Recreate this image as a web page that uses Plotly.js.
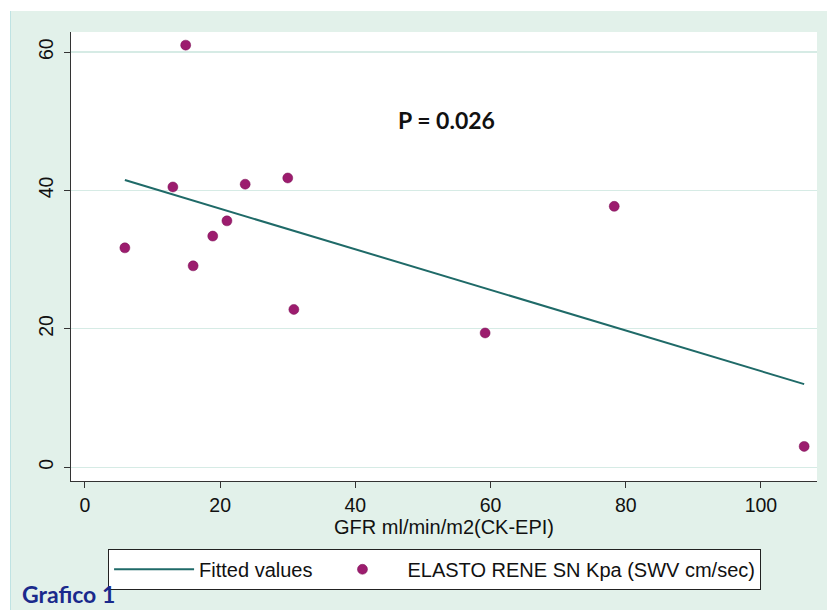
<!DOCTYPE html>
<html>
<head>
<meta charset="utf-8">
<script src="https://cdn.plot.ly/plotly-3.0.1.min.js"></script>
<style>
  html, body { margin: 0; padding: 0; background: #ffffff; width: 827px; height: 610px; overflow: hidden; }
  #frame { position: absolute; left: 10px; top: 11px; width: 817px; height: 599px; border-left: 1px solid #bfe3e3; box-sizing: border-box; }
  #chart { width: 816px; height: 599px; }
</style>
</head>
<body>
<div id="frame"><div id="chart"></div></div>
<script>
// GFR ml/min/m2 (CK-EPI) and ELASTO RENE SN Kpa values
const gfr = [5.9, 13.0, 14.9, 16.0, 18.9, 21.0, 23.7, 30.0, 30.9, 59.2, 78.3, 106.4];
const elasto = [31.7, 40.5, 61.0, 29.1, 33.4, 35.6, 40.9, 41.8, 22.8, 19.4, 37.7, 3.0];
// Fitted line end points
const fitX = [5.9, 106.4];
const fitY = [41.5, 12.0];
const xTicks = [0, 20, 40, 60, 80, 100];
const yTicks = [0, 20, 40, 60];
const seriesNames = ["Fitted values", "ELASTO RENE SN Kpa (SWV cm/sec)"];

const traces = [
  {
    x: fitX, y: fitY, type: 'scatter', mode: 'lines', name: seriesNames[0],
    line: { color: '#1f6a68', width: 2 }
  },
  {
    x: gfr, y: elasto, type: 'scatter', mode: 'markers', name: seriesNames[1],
    marker: { color: '#9c1c6e', size: 10, line: { color: '#7a1055', width: 0.5 } }
  }
];

const tickFont = { family: 'Liberation Sans, Arial, sans-serif', size: 19.5, color: '#111' };
const textFont = { family: 'Liberation Sans, Arial, sans-serif', size: 20, color: '#111' };

const layout = {
  width: 816, height: 599,
  margin: { l: 60, r: 10, t: 21, b: 129 },
  paper_bgcolor: '#e2f1ea',
  plot_bgcolor: '#ffffff',
  showlegend: true,
  legend: {
    orientation: 'h', x: 0.0497, y: -0.151, xanchor: 'left', yanchor: 'top',
    bordercolor: '#222', borderwidth: 1, bgcolor: '#ffffff',
    font: textFont,
    itemwidth: 80, traceorder: 'normal'
  },
  xaxis: {
    range: [-2.07, 108.3], tickvals: xTicks, ticktext: xTicks.map(String),
    ticks: 'outside', ticklen: 6, tickcolor: '#333', tickwidth: 1,
    showline: true, linecolor: '#333', linewidth: 1.3, showgrid: false, zeroline: false,
    tickfont: tickFont,
    title: { text: 'GFR ml/min/m2(CK-EPI)', font: textFont, standoff: 0 }
  },
  yaxis: {
    range: [-2.0, 62.9], tickvals: yTicks, ticktext: yTicks.map(String),
    ticks: 'outside', ticklen: 6, tickcolor: '#333', tickwidth: 1, tickangle: -90,
    showline: true, linecolor: '#333', linewidth: 1.3, showgrid: true, gridcolor: '#d6ebe5', gridwidth: 1.3,
    zeroline: false, tickfont: tickFont, ticklabelstandoff: 3
  },
  annotations: [
    {
      text: '<b>P = 0.026</b>', xref: 'paper', yref: 'paper',
      x: (446 - 71) / 745, y: (481 - 120) / 449, xanchor: 'center', yanchor: 'middle',
      showarrow: false, font: { family: 'Lato, Open Sans, sans-serif', size: 23, color: '#111' }
    },
    {
      text: '<b>Grafico 1</b>', xref: 'paper', yref: 'paper',
      x: (20 - 71) / 745, y: (481 - 610) / 449, xanchor: 'left', yanchor: 'bottom',
      showarrow: false, font: { family: 'Lato, Open Sans, sans-serif', size: 23, color: '#1a2a8c' }
    }
  ]
};

Plotly.newPlot('chart', traces, layout, { displayModeBar: false, staticPlot: true });
</script>
</body>
</html>
